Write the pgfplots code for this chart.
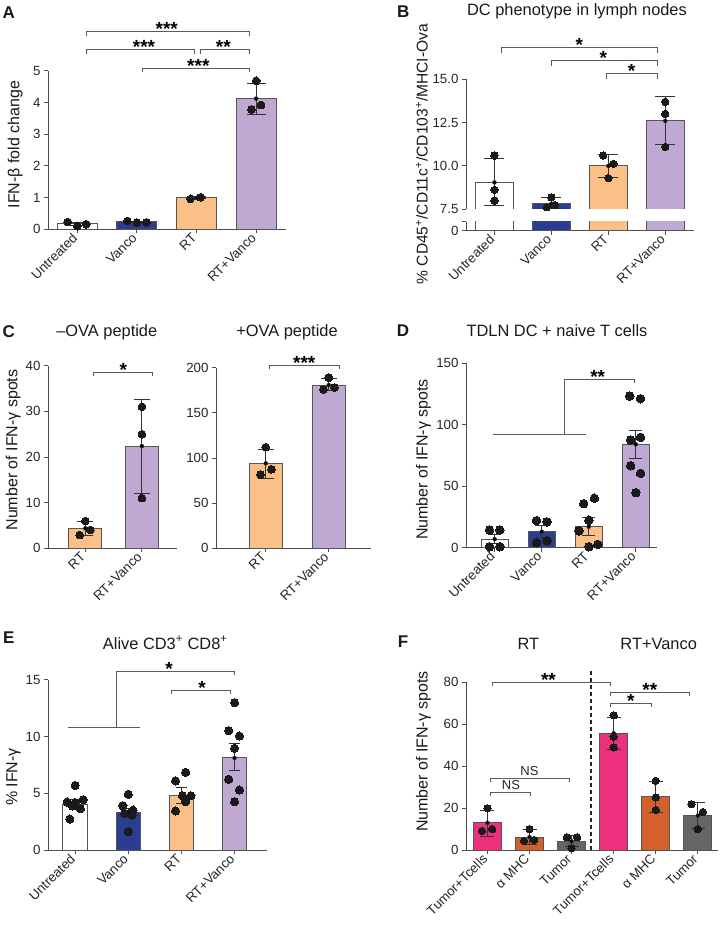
\documentclass[border=0pt]{standalone}
\usepackage{pgfplots}
\pgfplotsset{compat=1.18}
\usepackage{fontspec}
\setmainfont{Liberation Sans}
\definecolor{cblue}{HTML}{2A3D92}
\definecolor{cpeach}{HTML}{FBBF88}
\definecolor{clav}{HTML}{BFA8D1}
\definecolor{cpink}{HTML}{EC307E}
\definecolor{corange}{HTML}{D4602B}
\definecolor{cgray}{HTML}{666666}
\definecolor{bdr}{HTML}{555555}
\definecolor{axc}{HTML}{4D4D4D}
\definecolor{brc}{HTML}{5A5A5A}
\definecolor{dotc}{HTML}{1A1A1A}
\newcommand{\sfont}{\bfseries\fontsize{19}{19}\selectfont}
\newcommand{\brk}[4]{\draw[brc, line width=1pt] ([yshift=-#4]axis cs:#1,#3) -- (axis cs:#1,#3) -- (axis cs:#2,#3) -- ++(0pt,-#4);}
\newcommand{\st}[3]{\node[anchor=base, font=\sfont, inner sep=0pt] at ([yshift=-4pt]axis cs:#1,#2) {#3};}
\pgfplotsset{
 panel/.style={
   scale only axis, anchor=south west, clip=false,
   axis x line*=bottom, axis y line*=left,
   axis line style={-, draw=axc, line width=1pt},
   tick style={draw=axc, line width=1pt},
   major tick length=4pt, tick align=outside,
   ymin=0, xtick={0,1,2,3},
   tick label style={font=\fontsize{13.3}{15}\selectfont, text=black!85},
   xticklabel style={rotate=45, anchor=east},
   /pgf/number format/assume math mode=true,
   scaled y ticks=false,
 },
 mybar/.style 2 args={ybar, bar shift=0pt, bar width=#1, fill=#2, draw=bdr, line width=1pt},
 eb/.style={only marks, mark=none, draw=black!80,
   error bars/.cd, y dir=both, y explicit,
   error bar style={line width=1pt, draw=black!80},
   error mark options={rotate=90, line width=1pt, draw=black!80, mark size=#1}},
 dt/.style={only marks, mark=*, mark size=#1, mark options={fill=dotc, draw=dotc, line width=0pt}},
}
\begin{document}
\begin{tikzpicture}
\useasboundingbox (0pt,0pt) rectangle (725pt,-938pt);
% ---------------- Panel A
\begin{axis}[panel, at={(48pt,-229.3pt)}, width=238pt, height=158.6pt,
  xmin=-0.49, xmax=3.5, ymax=5, ytick={0,1,2,3,4,5},
  xticklabels={Untreated,Vanco,RT,RT+Vanco}]
 \addplot[mybar={40pt}{white}] coordinates {(0,0.17)};
 \addplot[mybar={40pt}{cblue}] coordinates {(1,0.24)};
 \addplot[mybar={40pt}{cpeach}] coordinates {(2,0.99)};
 \addplot[mybar={40pt}{clav}] coordinates {(3,4.12)};
 \addplot[eb=9.5pt] coordinates {(0,0.17) +- (0,0.05) (1,0.24) +- (0,0.02) (2,0.99) +- (0,0.03) (3,4.12) += (0,0.49) -= (0,0.49)};
 \addplot[dt=3.9pt] coordinates {(-0.16,0.23) (0,0.10) (0.15,0.16) (0.84,0.26) (1,0.21) (1.16,0.22) (1.9,0.96) (2.07,1.01) (3,4.68) (2.92,3.78) (3.08,3.92)};
 \brk{0.16}{2.89}{6.23}{4.3pt} \st{1.5}{6.23}{***}
 \brk{0.16}{1.97}{5.66}{4.3pt} \st{1.12}{5.66}{***}
 \brk{2.07}{2.89}{5.66}{4.3pt} \st{2.45}{5.66}{**}
 \brk{1.1}{2.89}{5.08}{4.3pt} \st{2.03}{5.08}{***}
\end{axis}
% ---------------- Panel B (upper)
\begin{axis}[panel, at={(466pt,-209.3pt)}, width=228.3pt, height=130pt,
  xmin=-0.5, xmax=3.51, ymin=7.5, ymax=15,
  axis x line=none, xtick=\empty,
  ytick={7.5,10,12.5,15},
  yticklabel style={/pgf/number format/fixed, /pgf/number format/fixed zerofill, /pgf/number format/precision=1}]
 \addplot[fill=white, draw=bdr, line width=1pt] coordinates {(-0.337,7.5) (-0.337,9.05) (0.337,9.05) (0.337,7.5)};
 \addplot[fill=cblue, draw=bdr, line width=1pt] coordinates {(0.663,7.5) (0.663,7.82) (1.337,7.82) (1.337,7.5)};
 \addplot[fill=cpeach, draw=bdr, line width=1pt] coordinates {(1.663,7.5) (1.663,10.0) (2.337,10.0) (2.337,7.5)};
 \addplot[fill=clav, draw=bdr, line width=1pt] coordinates {(2.663,7.5) (2.663,12.6) (3.337,12.6) (3.337,7.5)};
 \addplot[eb=10pt] coordinates {(0,9.05) += (0,1.39) -= (0,1.34) (1,7.82) += (0,0.35) -= (0,0.3) (2,10.0) +- (0,0.66) (3,12.6) += (0,1.39) -= (0,1.36)};
 \addplot[dt=3.7pt] coordinates {(0,10.6) (0,8.62) (0,8.0) (0.92,7.62) (1.06,7.75) (1.0,8.19) (1.91,10.6) (2.09,10.12) (2.0,9.3) (3,13.7) (3,13.0) (3,11.1)};
 \brk{0.12}{2.86}{16.81}{5pt} \st{1.49}{16.81}{*}
 \brk{1.0}{2.86}{16.06}{5pt} \st{1.91}{16.06}{*}
 \brk{1.96}{2.86}{15.31}{5pt} \st{2.41}{15.31}{*}
\end{axis}
% ---------------- Panel B (lower)
\begin{axis}[panel, at={(466pt,-230.7pt)}, width=228.3pt, height=9pt,
  xmin=-0.5, xmax=3.51, ymin=0, ymax=1, clip=true,
  ytick={0,1}, yticklabels={0,{}},
  xticklabels={Untreated,Vanco,RT,RT+Vanco}]
 \addplot[mybar={38.4pt}{white}] coordinates {(0,5)};
 \addplot[mybar={38.4pt}{cblue}] coordinates {(1,5)};
 \addplot[mybar={38.4pt}{cpeach}] coordinates {(2,5)};
 \addplot[mybar={38.4pt}{clav}] coordinates {(3,5)};
\end{axis}
% ---------------- Panel C left
\begin{axis}[panel, at={(48pt,-548.3pt)}, width=129pt, height=182.6pt,
  xmin=-0.66, xmax=1.62, ymax=40, ytick={0,10,20,30,40}, xtick={0,1},
  xticklabels={RT,RT+Vanco}]
 \addplot[mybar={33pt}{cpeach}] coordinates {(0,4.38)};
 \addplot[mybar={33pt}{clav}] coordinates {(1,22.4)};
 \addplot[eb=8pt] coordinates {(0,4.38) += (0,1.45) -= (0,1.53) (1,22.4) += (0,10.1) -= (0,10.4)};
 \addplot[dt=3.9pt] coordinates {(0,5.98) (-0.1,2.9) (0.09,4.0) (1,31.0) (1,25.0) (1,11.0)};
 \brk{0.15}{1.19}{38.5}{3.5pt} \st{0.67}{38.5}{*}
\end{axis}
% ---------------- Panel C right
\begin{axis}[panel, at={(216pt,-548.3pt)}, width=155pt, height=180.6pt,
  xmin=-0.79, xmax=1.67, ymax=200, ytick={0,50,100,150,200}, xtick={0,1},
  xticklabels={RT,RT+Vanco}]
 \addplot[mybar={33pt}{cpeach}] coordinates {(0,94.1)};
 \addplot[mybar={33pt}{clav}] coordinates {(1,180.8)};
 \addplot[eb=8pt] coordinates {(0,94.1) += (0,15.5) -= (0,16.6) (1,180.8) += (0,7.0) -= (0,6.3)};
 \addplot[dt=3.9pt] coordinates {(0,112) (-0.085,81.5) (0.09,87.5) (1,189) (0.915,176) (1.09,178)};
 \brk{0.056}{1.17}{202.2}{3.5pt} \st{0.61}{202.2}{***}
\end{axis}
% ---------------- Panel D
\begin{axis}[panel, at={(466pt,-547.7pt)}, width=191pt, height=184.4pt,
  xmin=-0.61, xmax=3.45, ymax=150, ytick={0,50,100,150},
  xticklabels={Untreated,Vanco,RT,RT+Vanco}]
 \addplot[mybar={27pt}{white}] coordinates {(0,7.0)};
 \addplot[mybar={27pt}{cblue}] coordinates {(1,13.0)};
 \addplot[mybar={27pt}{cpeach}] coordinates {(2,17.1)};
 \addplot[mybar={27pt}{clav}] coordinates {(3,84.1)};
 \addplot[eb=6.5pt] coordinates {(0,7.0) +- (0,3.9) (1,13.0) +- (0,4.9) (2,17.1) +- (0,7.5) (3,84.1) +- (0,11.5)};
 \addplot[dt=4.3pt] coordinates {(-0.11,14.4) (0.11,14.4) (-0.11,0.8) (0.11,0.8) (0.89,22) (1.11,21) (0.89,4) (1.11,5.7) (1.89,35.8) (2.12,40.2) (2.0,22.3) (1.79,13.8) (2.0,0.8) (2.19,2.7) (2.87,123.4) (3.1,121.2) (2.89,87.6) (3.1,89.8) (2.89,66.7) (3.1,60.5) (3.0,44.8)};
 \draw[brc, line width=1pt] (axis cs:-0.04,91.7) -- (axis cs:1.94,91.7);
 \draw[brc, line width=1pt] (axis cs:1.49,91.7) -- (axis cs:1.49,137) -- (axis cs:2.97,137) -- ++(0pt,-3.5pt);
 \st{2.19}{137}{**}
\end{axis}
% ---------------- Panel E
\begin{axis}[panel, at={(48pt,-850.3pt)}, width=219pt, height=170.6pt,
  xmin=-0.51, xmax=3.61, ymax=15, ytick={0,5,10,15},
  xticklabels={Untreated,Vanco,RT,RT+Vanco}]
 \addplot[mybar={24.5pt}{white}] coordinates {(0,4.07)};
 \addplot[mybar={24.5pt}{cblue}] coordinates {(1,3.31)};
 \addplot[mybar={24.5pt}{cpeach}] coordinates {(2,4.84)};
 \addplot[mybar={24.5pt}{clav}] coordinates {(3,8.12)};
 \addplot[eb=5.5pt] coordinates {(0,4.07) +- (0,0.43) (1,3.31) +- (0,0.4) (2,4.84) +- (0,0.7) (3,8.12) += (0,1.29) -= (0,1.06)};
 \addplot[dt=4.1pt] coordinates {(0,5.7) (-0.15,4.25) (0,4.2) (0.15,4.45) (-0.1,2.75) (0.1,3.65) (-0.05,3.9)
   (1,4.92) (0.9,3.92) (1.09,3.54) (0.93,3.25) (1.07,3.1) (1,1.64)
   (2.08,6.86) (1.89,6.1) (2.02,4.8) (2.18,4.8) (2.08,4.27) (1.89,3.46)
   (3,12.98) (2.89,10.52) (3.09,10.05) (3,8.97) (2.89,6.24) (3.09,5.3) (3,4.27)};
 \draw[brc, line width=1pt] (axis cs:-0.13,10.78) -- (axis cs:1.22,10.78);
 \draw[brc, line width=1pt] (axis cs:0.77,10.78) -- (axis cs:0.77,15.68) -- (axis cs:2.99,15.68) -- ++(0pt,-3pt);
 \st{1.77}{15.68}{*}
 \brk{1.82}{2.93}{14.01}{3.5pt} \st{2.39}{14.01}{*}
\end{axis}
% ---------------- Panel F
\begin{axis}[panel, at={(466pt,-850.3pt)}, width=252pt, height=168pt,
  xmin=-0.51, xmax=5.48, ymax=80, ytick={0,20,40,60,80}, xtick={0,1,2,3,4,5},
  xticklabels={Tumor+Tcells,α MHC,Tumor,Tumor+Tcells,α MHC,Tumor}]
 \addplot[mybar={27.7pt}{cpink}] coordinates {(0,13.1)};
 \addplot[mybar={27.7pt}{corange}] coordinates {(1,6.3)};
 \addplot[mybar={27.7pt}{cgray}] coordinates {(2,4.3)};
 \addplot[mybar={27.7pt}{cpink}] coordinates {(3,55.7)};
 \addplot[mybar={27.7pt}{corange}] coordinates {(4,25.4)};
 \addplot[mybar={27.7pt}{cgray}] coordinates {(5,16.5)};
 \addplot[eb=7pt] coordinates {(0,13.1) += (0,5.9) -= (0,6.3) (1,6.3) +- (0,3.4) (2,4.3) +- (0,2.7) (3,55.7) +- (0,7.6) (4,25.4) +- (0,7.3) (5,16.5) +- (0,6.2)};
 \addplot[dt=3.7pt] coordinates {(0,20) (-0.13,9.2) (0.11,10.1) (1,10.1) (0.87,4.4) (1.11,4.9) (1.89,6.2) (2.13,6.2) (2,1.0) (3,64.3) (3,54.1) (3,49) (4,33.1) (4,25.2) (4,19.2) (4.85,22) (5.12,18.2) (5,10.1)};
 \draw[black!85, line width=1.2pt, dash pattern=on 4pt off 3pt] (axis cs:2.46,0) -- (axis cs:2.46,85.9);
 \brk{0.13}{2.93}{80}{4pt} \st{1.45}{80}{**}
 \brk{2.93}{4.81}{75.2}{4pt} \st{3.86}{75.2}{**}
 \brk{2.93}{3.89}{70}{4pt} \st{3.41}{70}{*}
 \brk{0.08}{1.95}{34.1}{3.3pt}
 \node[anchor=base, font=\fontsize{13}{13}\selectfont, text=black!85] at ([yshift=3pt]axis cs:1.0,34.1) {NS};
 \brk{0.08}{1.03}{27.6}{3.3pt}
 \node[anchor=base, font=\fontsize{13}{13}\selectfont, text=black!85] at ([yshift=3pt]axis cs:0.56,27.6) {NS};
\end{axis}
% ---------------- Texts
\begin{scope}[every node/.style={text=black!90}]
\node[font=\bfseries\fontsize{17}{17}\selectfont] at (8.8pt,-12.8pt) {A};
\node[font=\bfseries\fontsize{17}{17}\selectfont] at (403.3pt,-12pt) {B};
\node[font=\bfseries\fontsize{17}{17}\selectfont] at (8.8pt,-331.7pt) {C};
\node[font=\bfseries\fontsize{17}{17}\selectfont] at (403pt,-331pt) {D};
\node[font=\bfseries\fontsize{17}{17}\selectfont] at (8.8pt,-638pt) {E};
\node[font=\bfseries\fontsize{17}{17}\selectfont] at (403pt,-641.7pt) {F};
\node[anchor=base, font=\fontsize{16.4}{18}\selectfont] at (577pt,-15.5pt) {DC phenotype in lymph nodes};
\node[anchor=base, font=\fontsize{16.4}{18}\selectfont] at (106.8pt,-336.7pt) {–OVA peptide};
\node[anchor=base, font=\fontsize{16.4}{18}\selectfont] at (287pt,-336.7pt) {+OVA peptide};
\node[anchor=base, font=\fontsize{16.4}{18}\selectfont] at (557pt,-336pt) {TDLN DC + naive T cells};
\node[anchor=base, font=\fontsize{16.4}{18}\selectfont] at (165.3pt,-649pt) {Alive CD3\textsuperscript{+} CD8\textsuperscript{+}};
\node[anchor=base, font=\fontsize{16.4}{18}\selectfont] at (528.3pt,-649pt) {RT};
\node[anchor=base, font=\fontsize{16.4}{18}\selectfont] at (658.7pt,-649pt) {RT+Vanco};
\node[rotate=90, anchor=base, font=\fontsize{16}{18}\selectfont] at (19.5pt,-144.7pt) {IFN-β fold change};
\node[rotate=90, anchor=base, font=\fontsize{15.6}{18}\selectfont] at (427.7pt,-154.2pt) {\% CD45\textsuperscript{+}/CD11c\textsuperscript{+}/CD103\textsuperscript{+}/MHCI-Ova};
\node[rotate=90, anchor=base, font=\fontsize{16}{18}\selectfont] at (17.3pt,-450pt) {Number of IFN-γ spots};
\node[rotate=90, anchor=base, font=\fontsize{16}{18}\selectfont] at (427.7pt,-459.5pt) {Number of IFN-γ spots};
\node[rotate=90, anchor=base, font=\fontsize{16}{18}\selectfont] at (17.3pt,-777pt) {\% IFN-γ};
\node[rotate=90, anchor=base, font=\fontsize{16}{18}\selectfont] at (427.7pt,-751.5pt) {Number of IFN-γ spots};
\end{scope}
\end{tikzpicture}
\end{document}
